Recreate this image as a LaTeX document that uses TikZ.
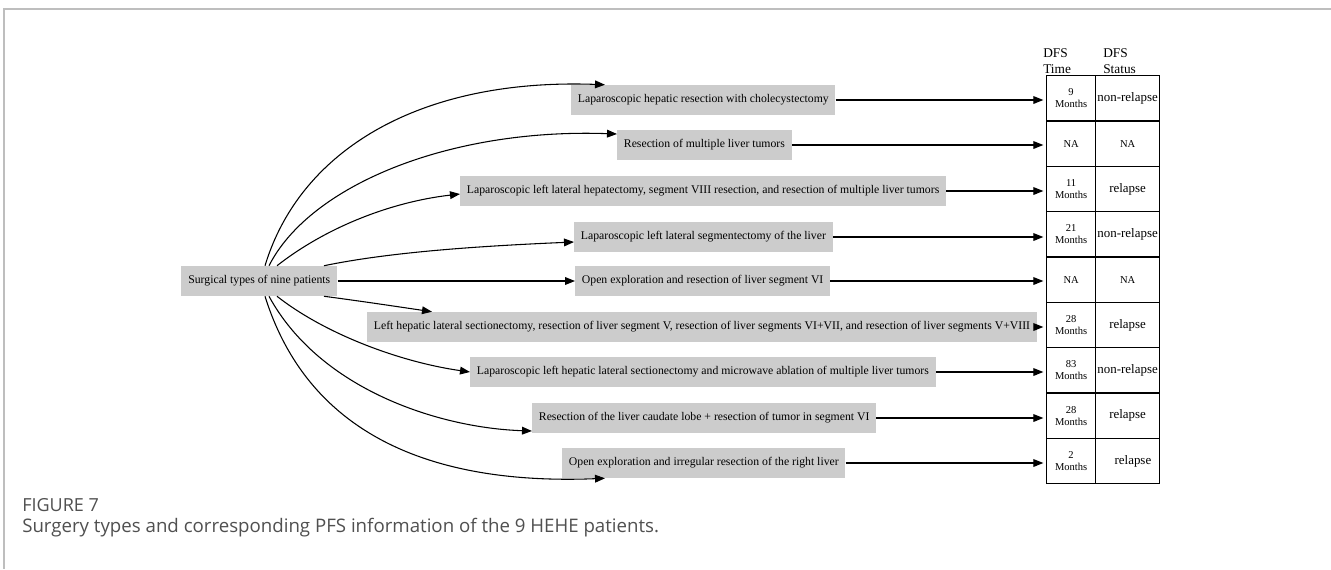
\documentclass[tikz,border=0pt]{standalone}
\usepackage{fontspec}
\setmainfont{Liberation Serif}
\newfontfamily\capfont{Open Sans}
\usetikzlibrary{arrows.meta,calc}
\definecolor{boxgray}{RGB}{204,204,204}
\definecolor{framegray}{RGB}{190,190,190}
\definecolor{capgray}{RGB}{80,80,80}
\begin{document}
\begin{tikzpicture}[x=0.75pt,y=-0.75pt,
  surg/.style={fill=boxgray, anchor=west, minimum height=22.5pt, inner xsep=5pt, inner ysep=0pt, font=\fontsize{8.8}{10.5}\selectfont},
  arr/.style={-{Triangle[length=7.5pt,width=5.8pt]}, line width=0.8pt},
  tcell/.style={draw, line width=0.9pt, anchor=north west, minimum width=36.75pt, minimum height=34pt, inner sep=0pt, align=center, font=\fontsize{7.9}{9}\selectfont},
  scell/.style={draw, line width=0.9pt, anchor=north west, minimum width=48pt, minimum height=34pt, inner sep=0pt, align=center, font=\fontsize{9.7}{11}\selectfont},
  smallna/.style={font=\fontsize{7.9}{9}\selectfont},
  head/.style={anchor=south west, align=left, inner sep=0pt, font=\fontsize{10}{12}\selectfont}
]
\useasboundingbox (0,0) rectangle (1331,569);
\fill[white] (0,0) rectangle (1331,569);
% frame
\draw[framegray, line width=0.8pt] (1331,9) -- (4,9) -- (4,569);

% source
\node[surg, minimum width=117pt] (src) at (181,281) {Surgical types of nine patients};

% targets
\node[surg] (t1) at (571,100) {Laparoscopic hepatic resection with cholecystectomy};
\node[surg] (t2) at (617,145) {Resection of multiple liver tumors};
\node[surg] (t3) at (460,191) {Laparoscopic left lateral hepatectomy, segment VIII resection, and resection of multiple liver tumors};
\node[surg] (t4) at (574,237) {Laparoscopic left lateral segmentectomy of the liver};
\node[surg] (t5) at (575,281) {Open exploration and resection of liver segment VI};
\node[surg] (t6) at (367,327) {Left hepatic lateral sectionectomy, resection of liver segment V, resection of liver segments VI+VII, and resection of liver segments V+VIII};
\node[surg] (t7) at (470,372) {Laparoscopic left hepatic lateral sectionectomy and microwave ablation of multiple liver tumors};
\node[surg] (t8) at (532,418) {Resection of the liver caudate lobe + resection of tumor in segment VI};
\node[surg] (t9) at (562,463) {Open exploration and irregular resection of the right liver};

% table
\node[head] (h1) at (1043,74) {DFS\\Time};
\node[head] (h2) at (1103,74) {DFS\\Status};
\node[tcell] (d1) at (1046,75) {9\\Months};
\node[scell] (s1) at (1095,75) {non-relapse};
\node[tcell] (d2) at (1046,120.33) {NA};
\node[scell, smallna] (s2) at (1095,120.33) {NA};
\node[tcell] (d3) at (1046,165.67) {11\\Months};
\node[scell] (s3) at (1095,165.67) {relapse};
\node[tcell] (d4) at (1046,211) {21\\Months};
\node[scell] (s4) at (1095,211) {non-relapse};
\node[tcell] (d5) at (1046,256.33) {NA};
\node[scell, smallna] (s5) at (1095,256.33) {NA};
\node[tcell] (d6) at (1046,301.67) {28\\Months};
\node[scell] (s6) at (1095,301.67) {relapse};
\node[tcell] (d7) at (1046,347) {83\\Months};
\node[scell] (s7) at (1095,347) {non-relapse};
\node[tcell] (d8) at (1046,392.33) {28\\Months};
\node[scell] (s8) at (1095,392.33) {relapse};
\node[tcell] (d9) at (1046,437.67) {2\\Months};
\node[scell] (s9) at (1095,437.67) {\hspace{8pt}relapse};

% curved connectors
\draw[arr] ($(src.north west)+(84,0)$) .. controls (300,150) and (420,78) .. ($(t1.north west)+(34,0)$);
\draw[arr] ($(src.north west)+(88,0)$) .. controls (310,185) and (450,128) .. ($(t2.west)+(0,-11)$);
\draw[arr] ($(src.north west)+(96,0)$) .. controls (325,228) and (390,202) .. ($(t3.west)+(0,3)$);
\draw[arr] ($(src.north west)+(143,0)$) .. controls (390,252) and (480,246) .. ($(t4.west)+(0,5)$);
\draw[arr] (src.east) -- (t5.west);
\draw[arr] ($(src.south west)+(143,0)$) .. controls (360,301) and (400,307) .. ($(t6.north west)+(65,0)$);
\draw[arr] ($(src.south west)+(96,0)$) .. controls (325,334) and (400,362) .. (t7.west);
\draw[arr] ($(src.south west)+(88,0)$) .. controls (320,390) and (440,428) .. ($(t8.west)+(0,13)$);
\draw[arr] ($(src.south west)+(84,0)$) .. controls (310,440) and (440,485) .. ($(t9.south west)+(43,0)$);

% straight connectors to table
\draw[arr, shorten >=2pt] (t1.east) -- (t1.east -| d1.west);
\draw[arr, shorten >=2pt] (t2.east) -- (t2.east -| d2.west);
\draw[arr, shorten >=2pt] (t3.east) -- (t3.east -| d3.west);
\draw[arr, shorten >=2pt] (t4.east) -- (t4.east -| d4.west);
\draw[arr, shorten >=2pt] (t5.east) -- (t5.east -| d5.west);
\draw[arr, shorten >=2pt] (t6.east) -- (t6.east -| d6.west);
\draw[arr, shorten >=2pt] (t7.east) -- (t7.east -| d7.west);
\draw[arr, shorten >=2pt] (t8.east) -- (t8.east -| d8.west);
\draw[arr, shorten >=2pt] (t9.east) -- (t9.east -| d9.west);

% caption
\node[anchor=west, inner sep=0pt, text=capgray, font=\capfont\fontsize{13.5}{16}\selectfont] (fig) at (22,505) {FIGURE 7};
\node[anchor=west, inner sep=0pt, text=capgray, font=\capfont\fontsize{14}{17}\selectfont] (cap) at (22,528) {Surgery types and corresponding PFS information of the 9 HEHE patients.};
\end{tikzpicture}
\end{document}
